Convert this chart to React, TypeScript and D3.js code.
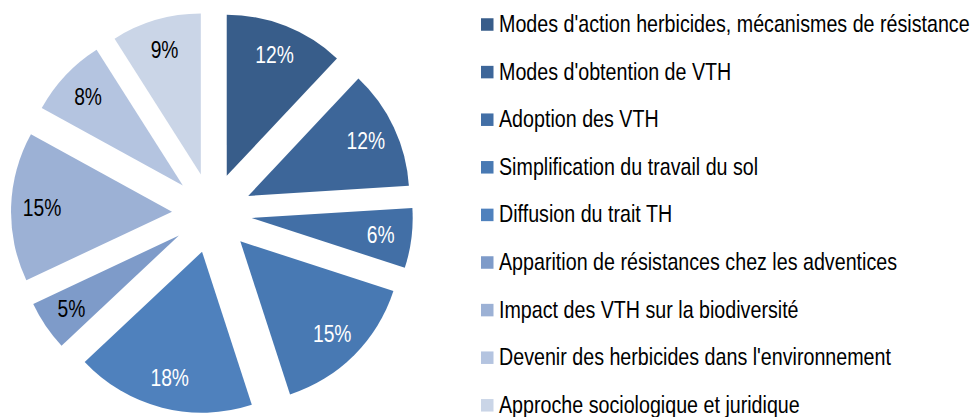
import React from "react";
import * as d3 from "d3";

const categories = [
  "Modes d'action herbicides, mécanismes de résistance",
  "Modes d'obtention de VTH",
  "Adoption des VTH",
  "Simplification du travail du sol",
  "Diffusion du trait TH",
  "Apparition de résistances chez les adventices",
  "Impact des VTH sur la biodiversité",
  "Devenir des herbicides dans l'environnement",
  "Approche sociologique et juridique",
];
const values = [12, 12, 6, 15, 18, 5, 15, 8, 9];
const labels = ["12%", "12%", "6%", "15%", "18%", "5%", "15%", "8%", "9%"];
const colors = [
  "#385D8A",
  "#3D6699",
  "#426FA6",
  "#4879B3",
  "#4F81BD",
  "#7E9BC9",
  "#9CB1D5",
  "#B4C4E0",
  "#CAD5E7",
];
const labelColors = ["#fff", "#fff", "#fff", "#fff", "#fff", "#000", "#000", "#000", "#000"];

const W = 971;
const H = 417;
const cx = 212;
const cy = 213;
const R = 161;
const explode = 40;
const labelR = 130;
const labelFont = 23.5;
const legendFont = 24;
const squeeze = 0.82;
const FONT = "'Liberation Sans', Arial, sans-serif";

export default function App() {
  const pie = d3
    .pie<number>()
    .sort(null)
    .value((d) => d)
    .startAngle(0)
    .endAngle(2 * Math.PI);
  const arcs = pie(values);
  const arc = d3.arc<d3.PieArcDatum<number>>().innerRadius(0).outerRadius(R);
  const legendY = d3.scaleLinear().domain([0, 8]).range([24.5, 405.3]);

  return (
    <svg
      width={W}
      height={H}
      style={{ position: "absolute", left: 0, top: 0, background: "#fff" }}
      fontFamily={FONT}
    >
      <g transform={`translate(${cx},${cy})`}>
        {arcs.map((a, i) => {
          const mid = (a.startAngle + a.endAngle) / 2;
          const dx = Math.sin(mid) * explode;
          const dy = -Math.cos(mid) * explode;
          const lx = dx + Math.sin(mid) * labelR;
          const ly = dy - Math.cos(mid) * labelR;
          return (
            <g key={i}>
              <path d={arc(a) || ""} fill={colors[i]} transform={`translate(${dx},${dy})`} />
              <g transform={`translate(${lx},${ly + 8.4}) scale(${squeeze},1)`}>
                <text textAnchor="middle" fontSize={labelFont} fill={labelColors[i]}>
                  {labels[i]}
                </text>
              </g>
            </g>
          );
        })}
      </g>
      {categories.map((c, i) => {
        const y = legendY(i);
        return (
          <g key={c}>
            <rect x={481} y={y - 6.25} width={12.5} height={12.5} fill={colors[i]} />
            <g transform={`translate(499,${y + 7.4}) scale(${squeeze},1)`}>
              <text fontSize={legendFont} fill="#000">
                {c}
              </text>
            </g>
          </g>
        );
      })}
    </svg>
  );
}
